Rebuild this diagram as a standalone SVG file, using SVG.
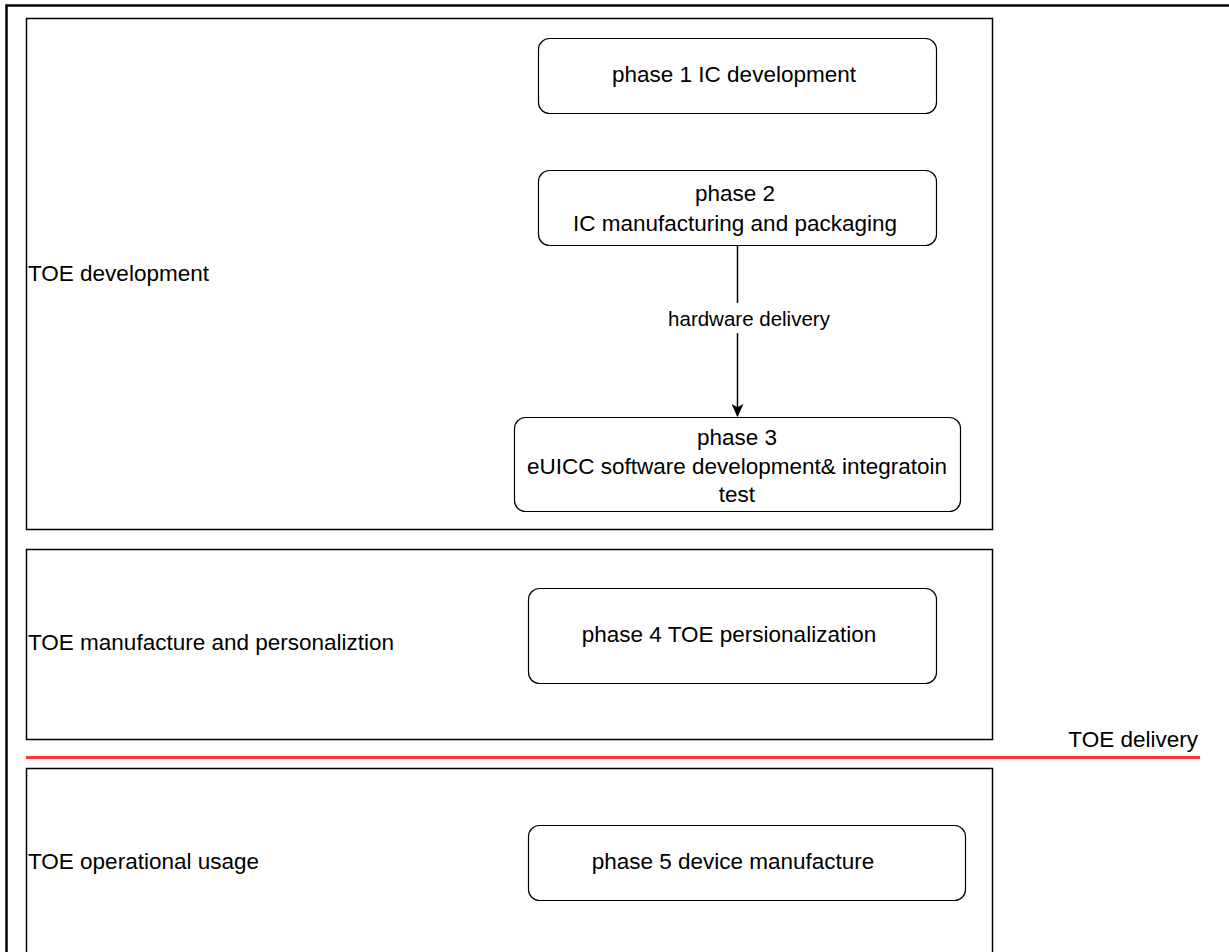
<svg xmlns="http://www.w3.org/2000/svg" width="1229" height="952" viewBox="0 0 1229 952">
<style>
.frame{fill:none;stroke:#000;stroke-width:2.5}
.stage{fill:#fff;stroke:#000;stroke-width:1.5}
.box{fill:#fff;stroke:#000;stroke-width:1.2}
text{font-family:"Liberation Sans",Arial,sans-serif;font-size:22.5px;fill:#000}
.c{text-anchor:middle}
.lbl{font-size:20.5px}
</style>
<defs>
<marker id="arr" viewBox="0 0 12 12" refX="11" refY="6" markerWidth="13" markerHeight="13" markerUnits="userSpaceOnUse" orient="auto"><path d="M0,0.5 L12,6 L0,11.5 L3,6 Z" fill="#000"/></marker>
</defs>
<rect width="1229" height="952" fill="#fff"/>
<rect class="frame" x="6.5" y="5.5" width="1240" height="960"/>
<g id="stage-dev"><rect class="stage" x="26.5" y="18.5" width="966" height="511"/><text x="28" y="281">TOE development</text></g>
<g id="stage-manu"><rect class="stage" x="26.5" y="549.5" width="966" height="190"/><text x="28" y="650">TOE manufacture and personaliztion</text></g>
<g id="stage-ops"><rect class="stage" x="26.5" y="768.5" width="966" height="200"/><text x="28" y="869">TOE operational usage</text></g>
<g id="delivery"><line x1="26" y1="757.5" x2="1200" y2="757.5" stroke="#ff3333" stroke-width="3"/><text x="1198" y="747" text-anchor="end">TOE delivery</text></g>
<g id="phase1"><rect class="box" x="538.5" y="38.5" width="398" height="75" rx="11"/><text class="c" x="734" y="82">phase 1 IC development</text></g>
<g id="phase2"><rect class="box" x="538.5" y="170.5" width="398" height="75" rx="11"/><text class="c" x="735" y="201">phase 2</text><text class="c" x="735" y="231">IC manufacturing and packaging</text></g>
<g id="phase3"><rect class="box" x="514.5" y="417.5" width="446" height="94" rx="11"/><text class="c" x="737" y="445">phase 3</text><text class="c" x="737" y="474">eUICC software development&amp; integratoin</text><text class="c" x="737" y="502">test</text></g>
<g id="phase4"><rect class="box" x="528.5" y="588.5" width="408" height="95" rx="11"/><text class="c" x="729" y="642">phase 4 TOE persionalization</text></g>
<g id="phase5"><rect class="box" x="528.5" y="825.5" width="437" height="75" rx="11"/><text class="c" x="733" y="869">phase 5 device manufacture</text></g>
<g id="connectors">
<line x1="737.5" y1="246" x2="737.5" y2="416" stroke="#000" stroke-width="1.5" marker-end="url(#arr)"/>
<rect x="662" y="303" width="152" height="30" fill="#fff"/>
<text class="c lbl" x="749" y="326">hardware delivery</text>
</g>
</svg>
